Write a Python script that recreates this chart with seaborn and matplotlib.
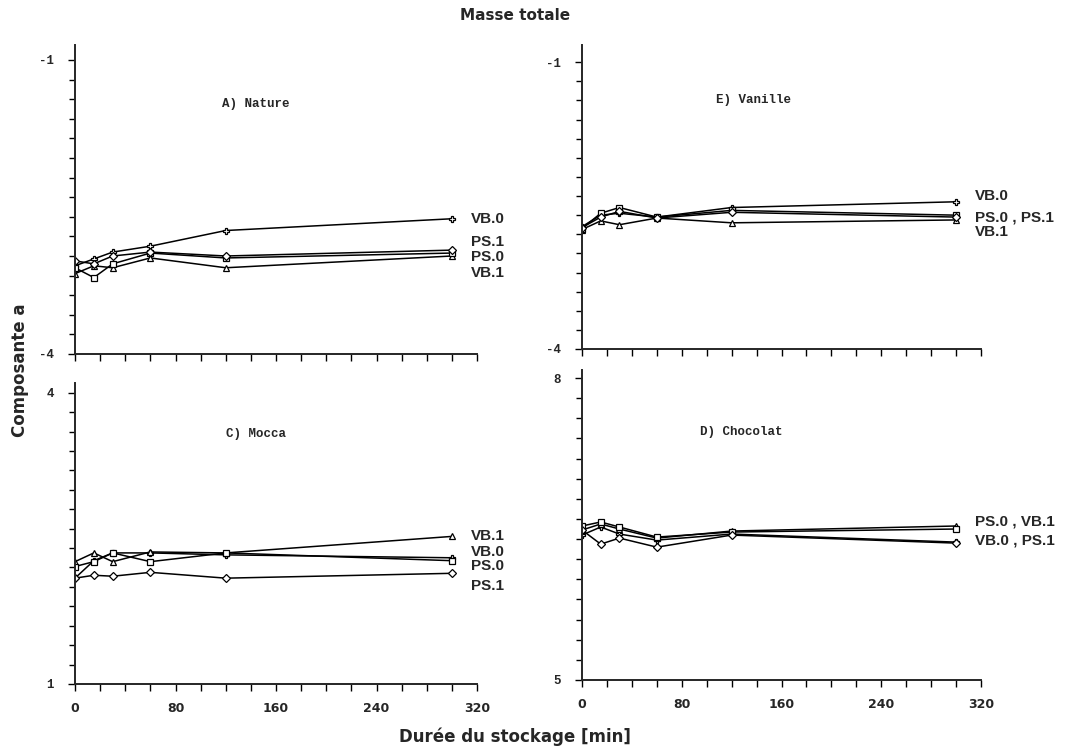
import numpy as np
import pandas as pd
import matplotlib
matplotlib.use("Agg")
import matplotlib.pyplot as plt
import seaborn as sns
from matplotlib.ticker import FixedLocator

# ---------------- data ----------------
time_min = [0, 15, 30, 60, 120, 300]
series_names = ["VB.0", "VB.1", "PS.0", "PS.1"]

nature_vb0 = [-3.10, -3.03, -2.96, -2.90, -2.74, -2.62]
nature_vb1 = [-3.18, -3.10, -3.12, -3.02, -3.12, -3.00]
nature_ps0 = [-3.12, -3.22, -3.08, -2.97, -3.02, -2.97]
nature_ps1 = [-3.05, -3.08, -3.00, -2.96, -3.00, -2.94]

vanille_vb0 = [-2.72, -2.60, -2.58, -2.62, -2.52, -2.46]
vanille_vb1 = [-2.75, -2.66, -2.70, -2.63, -2.68, -2.65]
vanille_ps0 = [-2.74, -2.58, -2.52, -2.62, -2.55, -2.60]
vanille_ps1 = [-2.73, -2.62, -2.56, -2.63, -2.57, -2.62]

mocca_vb0 = [2.09, 2.27, 2.35, 2.35, 2.33, 2.30]
mocca_vb1 = [2.26, 2.35, 2.26, 2.36, 2.35, 2.52]
mocca_ps0 = [2.21, 2.26, 2.35, 2.26, 2.35, 2.27]
mocca_ps1 = [2.09, 2.12, 2.11, 2.15, 2.09, 2.14]

choco_vb0 = [6.44, 6.52, 6.45, 6.39, 6.45, 6.37]
choco_vb1 = [6.49, 6.55, 6.50, 6.41, 6.48, 6.53]
choco_ps0 = [6.53, 6.57, 6.52, 6.42, 6.47, 6.50]
choco_ps1 = [6.49, 6.35, 6.41, 6.32, 6.44, 6.36]

panel_titles = ["A) Nature", "E) Vanille", "C) Mocca", "D) Chocolat"]
y_ranges = [(-4, -1), (-4, -1), (1, 4), (5, 8)]

# end labels (text, y value) per panel
labels_nature = [("VB.0", -2.62), ("PS.1", -2.86), ("PS.0", -3.01), ("VB.1", -3.17)]
labels_vanille = [("VB.0", -2.40), ("PS.0 , PS.1", -2.62), ("VB.1", -2.78)]
labels_mocca = [("VB.1", 2.52), ("VB.0", 2.36), ("PS.0", 2.22), ("PS.1", 2.01)]
labels_choco = [("PS.0 , VB.1", 6.57), ("VB.0 , PS.1", 6.39)]

x_ticks = [0, 80, 160, 240, 320]

panels = [
    dict(vals=[nature_vb0, nature_vb1, nature_ps0, nature_ps1], labels=labels_nature),
    dict(vals=[vanille_vb0, vanille_vb1, vanille_ps0, vanille_ps1], labels=labels_vanille),
    dict(vals=[mocca_vb0, mocca_vb1, mocca_ps0, mocca_ps1], labels=labels_mocca),
    dict(vals=[choco_vb0, choco_vb1, choco_ps0, choco_ps1], labels=labels_choco),
]

# ---------------- style ----------------
sns.set_style("ticks")
plt.rcParams["font.family"] = ["DejaVu Sans"]

fig = plt.figure(figsize=(10.70, 7.56), dpi=100)

rects = [
    (75 / 1070, (756 - 354) / 756, 402 / 1070, 309 / 756),
    (582 / 1070, (756 - 349) / 756, 399 / 1070, 304 / 756),
    (75 / 1070, (756 - 684) / 756, 402 / 1070, 301 / 756),
    (582 / 1070, (756 - 680) / 756, 399 / 1070, 310 / 756),
]
y_tops = [-0.847, -0.82, 4.10, 8.08]
title_pos = [(0.45, 0.81), (0.43, 0.82), (0.45, 0.83), (0.40, 0.80)]

markers = {"VB.0": "P", "VB.1": "^", "PS.0": "s", "PS.1": "D"}
palette = {n: "black" for n in series_names}

for i, p in enumerate(panels):
    ax = fig.add_axes(rects[i])
    df = pd.DataFrame({
        "time": np.tile(time_min, len(series_names)),
        "value": np.concatenate(p["vals"]),
        "series": np.repeat(series_names, len(time_min)),
    })
    sns.lineplot(data=df, x="time", y="value", hue="series", style="series",
                 palette=palette, markers=markers, dashes=False, legend=False,
                 linewidth=1.1, markersize=4, markeredgecolor="black",
                 markerfacecolor="white", markeredgewidth=0.9, ax=ax)
    lo, hi = y_ranges[i]
    ax.set_xlim(0, 320)
    ax.set_ylim(lo, y_tops[i])
    ax.set_xlabel("")
    ax.set_ylabel("")
    sns.despine(ax=ax)
    ax.spines["left"].set_bounds(lo, y_tops[i])
    ax.spines["left"].set_linewidth(1.4)
    ax.spines["bottom"].set_linewidth(1.4)
    ax.set_xticks(x_ticks)
    ax.xaxis.set_minor_locator(FixedLocator(np.arange(0, 321, 20)))
    ax.set_yticks([lo, hi])
    ax.set_yticklabels([f"{lo:g}", f"{hi:g}"], family="Liberation Mono",
                       fontweight="bold")
    ax.yaxis.set_minor_locator(FixedLocator(np.round(np.arange(lo, y_tops[i], 0.2), 3)))
    ax.tick_params(axis="both", which="both", direction="out", color="black",
                   width=1.0)
    ax.tick_params(axis="x", which="major", length=5, labelsize=9, pad=8)
    ax.tick_params(axis="x", which="minor", length=5)
    ax.tick_params(axis="y", which="major", length=5, labelsize=9, pad=10)
    ax.tick_params(axis="y", which="minor", length=4)
    for t in ax.get_xticklabels():
        t.set_fontweight("bold")
    if i < 2:
        ax.tick_params(axis="x", labelbottom=False)
    ax.text(title_pos[i][0], title_pos[i][1], panel_titles[i],
            transform=ax.transAxes, ha="center", va="center",
            family="Liberation Mono", fontweight="bold", fontsize=9)
    for txt, yv in p["labels"]:
        ax.text(315, yv, txt, ha="left", va="center", fontsize=11,
                fontweight="bold", family="Liberation Sans", clip_on=False)

fig.text(515 / 1070, 1 - 15 / 756, "Masse totale", ha="center", va="center",
         fontsize=11, fontweight="bold")
fig.text(20 / 1070, 1 - 370 / 756, "Composante a", ha="center", va="center",
         rotation=90, fontsize=12, fontweight="bold")
fig.text(515 / 1070, 1 - 737 / 756, "Durée du stockage [min]", ha="center",
         va="center", fontsize=12, fontweight="bold")

fig.savefig("out.png", dpi=100)
